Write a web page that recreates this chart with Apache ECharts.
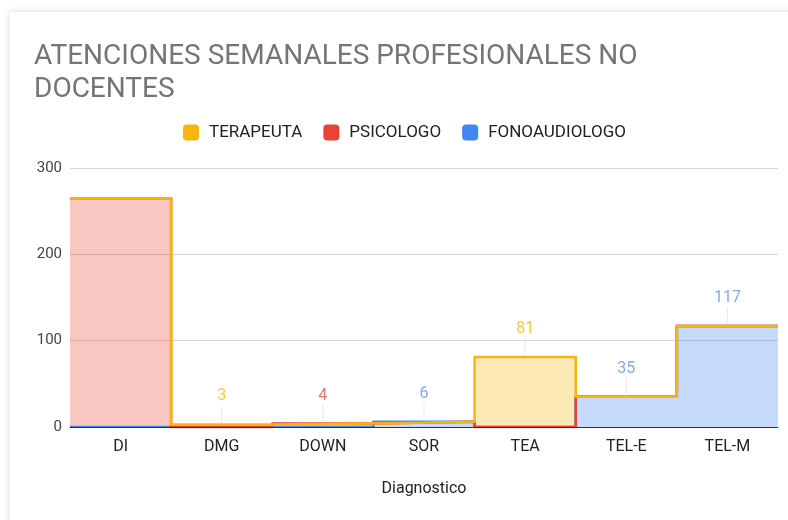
<!DOCTYPE html>
<html>
<head>
<meta charset="utf-8">
<script src="https://cdn.jsdelivr.net/npm/echarts@6/dist/echarts.min.js"></script>
<style>
  html, body { margin: 0; padding: 0; background: #fff; }
  #card { position: absolute; left: 10px; top: 12px; width: 800px; height: 530px; background: #fff; box-shadow: 0 0 7px rgba(0,0,0,0.16); }
  #main { position: absolute; left: 0; top: 0; width: 788px; height: 520px; }
</style>
</head>
<body>
<div id="card"></div>
<div id="main"></div>
<script>
const categories = ['DI', 'DMG', 'DOWN', 'SOR', 'TEA', 'TEL-E', 'TEL-M'];
const terapeuta = [0, 3, 0, 0, 81, 0, 0];
const psicologo = [265, 0, 4, 0, 0, 0, 0];
const fonoaudiologo = [0, 0, 0, 6, 0, 35, 117];
const yTicks = [0, 100, 200, 300];
// the reference shows no value label on DI
const hiddenLabels = ['DI'];

const colors = { TERAPEUTA: '#f9b50a', PSICOLOGO: '#ea4335', FONOAUDIOLOGO: '#4285f4' };
const labelColors = { TERAPEUTA: '#fbbc04', PSICOLOGO: '#ea5045', FONOAUDIOLOGO: '#5a95f5' };

// stacking order, bottom first
const stackOrder = [
  ['FONOAUDIOLOGO', fonoaudiologo],
  ['PSICOLOGO', psicologo],
  ['TERAPEUTA', terapeuta]
];

// band edges for the stepped lines (one more than categories)
const edges = categories.map((c, i) => String(i)).concat([String(categories.length)]);

// step 'end' holds each value across its band, last value repeated to close the band
function stepData(values) {
  return values.concat([values[values.length - 1]]);
}

const series = [];
const cum = categories.map(() => 0);
stackOrder.forEach(([name, values]) => {
  series.push({
    name: name,
    type: 'line',
    xAxisIndex: 1,
    stack: 'total',
    stackStrategy: 'all',
    step: 'end',
    symbol: 'none',
    data: stepData(values),
    lineStyle: { width: 2.5, color: colors[name], join: 'round' },
    itemStyle: { color: colors[name] },
    areaStyle: { color: colors[name], opacity: 0.3 },
    z: 2
  });
  const pts = [];
  values.forEach((v, i) => {
    cum[i] += v;
    if (v > 0 && hiddenLabels.indexOf(categories[i]) < 0) pts.push([i, cum[i], v]);
  });
  series.push({
    name: name + '-label',
    type: 'scatter',
    xAxisIndex: 0,
    silent: true,
    symbol: 'rect',
    symbolSize: [1, 18],
    symbolOffset: [0, -10],
    itemStyle: { color: '#e3e3e3' },
    label: {
      show: true,
      position: 'top',
      distance: 1,
      color: labelColors[name],
      fontSize: 16,
      fontFamily: 'Roboto',
      formatter: p => p.value[2]
    },
    data: pts,
    z: 5
  });
});

const chart = echarts.init(document.getElementById('main'));
chart.setOption({
  animation: false,
  textStyle: { fontFamily: 'Roboto' },
  title: {
    text: 'ATENCIONES SEMANALES PROFESIONALES NO\nDOCENTES',
    left: 29,
    top: 35,
    textStyle: { color: '#757575', fontSize: 28, fontWeight: 'normal', fontFamily: 'Roboto', lineHeight: 33 }
  },
  legend: {
    data: ['TERAPEUTA', 'PSICOLOGO', 'FONOAUDIOLOGO'],
    left: 178,
    top: 119,
    icon: 'roundRect',
    itemWidth: 16,
    itemHeight: 16,
    itemGap: 21,
    textStyle: { color: '#222', fontSize: 17, fontFamily: 'Roboto', padding: [0, 0, 0, 5] }
  },
  grid: { left: 70, right: 10, top: 168, bottom: 93 },
  xAxis: [
    {
      type: 'category',
      data: categories,
      boundaryGap: true,
      name: 'Diagnostico',
      nameLocation: 'middle',
      nameGap: 54,
      nameTextStyle: { color: '#222', fontSize: 16, fontFamily: 'Roboto' },
      axisLine: { lineStyle: { color: '#333', width: 1 } },
      axisTick: { show: false },
      axisLabel: { color: '#222', fontSize: 16, margin: 12, fontFamily: 'Roboto' },
      z: 6
    },
    {
      type: 'category',
      data: edges,
      boundaryGap: false,
      show: false
    }
  ],
  yAxis: {
    type: 'value',
    min: yTicks[0],
    max: yTicks[yTicks.length - 1],
    interval: 100,
    axisLine: { show: false },
    axisTick: { show: false },
    axisLabel: { color: '#444', fontSize: 15, margin: 8, fontFamily: 'Roboto' },
    splitLine: { lineStyle: { color: '#d6d6d6' } }
  },
  series: series
});
</script>
</body>
</html>
